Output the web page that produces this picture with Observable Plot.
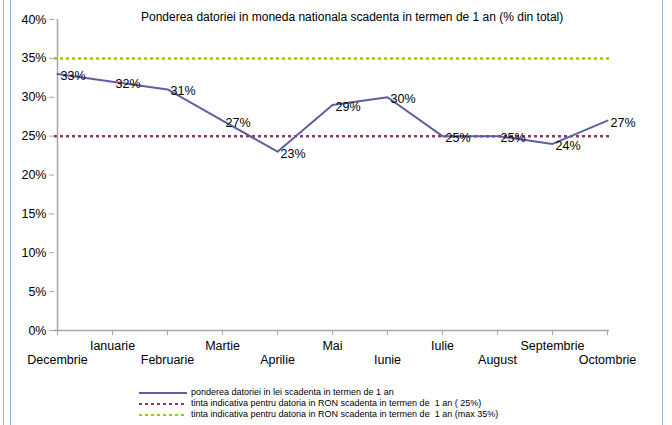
<!DOCTYPE html>
<html>
<head>
<meta charset="utf-8">
<script src="https://cdn.jsdelivr.net/npm/d3@7"></script>
<script src="https://cdn.jsdelivr.net/npm/@observablehq/plot@0.6"></script>
<style>
  body { margin: 0; background: #fff; }
  #wrap { position: relative; width: 672px; height: 425px; overflow: hidden; font-family: "Liberation Sans", Arial, sans-serif; }
  #title { position: absolute; left: 141px; top: 10px; font-size: 12px; line-height: 14px; white-space: nowrap; color: #000; }
  #legend { position: absolute; left: 139px; top: 387px; font-size: 9px; color: #000; }
  .row { height: 11px; line-height: 11px; display: flex; align-items: center; white-space: pre; }
  .row svg { margin-right: 2px; }
  .vb { position: absolute; top: 0; width: 1px; height: 425px; background: #95b3d7; }
</style>
</head>
<body>
<div id="wrap">
  <div id="chart"></div>
  <div id="title">Ponderea datoriei in moneda nationala scadenta in termen de 1 an (% din total)</div>
  <div id="legend"></div>
  <div class="vb" style="left:3px"></div>
  <div class="vb" style="left:10px"></div>
  <div class="vb" style="left:662px"></div>
</div>
<script>
const months = ["Decembrie","Ianuarie","Februarie","Martie","Aprilie","Mai","Iunie","Iulie","August","Septembrie","Octombrie"];
const values = [0.33,0.32,0.31,0.27,0.23,0.29,0.30,0.25,0.25,0.24,0.27];
const target25 = 0.25;
const target35 = 0.35;
const yTicks = [0,0.05,0.10,0.15,0.20,0.25,0.30,0.35,0.40];
const legendLabels = [
  "ponderea datoriei in lei scadenta in termen de 1 an",
  "tinta indicativa pentru datoria in RON scadenta in termen de  1 an ( 25%)",
  "tinta indicativa pentru datoria in RON scadenta in termen de  1 an (max 35%)"
];
const colors = ["#5f5f9f", "#993366", "#99cc00"];

const data = months.map((m, i) => ({month: m, value: values[i]}));
const pct = d3.format(".0%");
const axisColor = "#a6a6a6";

const chart = Plot.plot({
  width: 672,
  height: 380,
  marginLeft: 54,
  marginRight: 63,
  marginTop: 19,
  marginBottom: 50,
  style: {fontFamily: "'Liberation Sans', Arial, sans-serif", fontSize: "12px", color: "#000", background: "transparent"},
  x: {type: "point", domain: months, padding: 0, axis: null, label: null},
  y: {domain: [0, 0.4], axis: null, label: null},
  marks: [
    Plot.ruleY([target35], {stroke: colors[2], strokeWidth: 2.5, strokeDasharray: "3,3"}),
    Plot.ruleY([target25], {stroke: colors[1], strokeWidth: 2.5, strokeDasharray: "3,3"}),
    Plot.ruleX([months[0]], {stroke: axisColor, strokeWidth: 1.5}),
    Plot.ruleY([0], {stroke: axisColor, strokeWidth: 1.5}),
    Plot.axisY({ticks: yTicks, tickFormat: pct, tickSize: 5, tickPadding: 3, stroke: axisColor, fill: "#000", fontSize: 12.5, label: null}),
    Plot.axisX({ticks: months, tickSize: 5, tickPadding: 6, stroke: axisColor, fill: "#000", fontSize: 12.5, label: null,
      tickFormat: (d) => months.indexOf(d) % 2 === 1 ? d : ""}),
    Plot.axisX({ticks: months.filter((d, i) => i % 2 === 0), tickSize: 0, tickPadding: 25, fill: "#000", fontSize: 12.5, label: null}),
    Plot.line(data, {x: "month", y: "value", stroke: colors[0], strokeWidth: 2}),
    Plot.text(data, {x: "month", y: "value", text: d => pct(d.value), textAnchor: "start", dx: 3, dy: 2, fontSize: 12.5, fill: "#000"})
  ]
});
document.getElementById("chart").appendChild(chart);

const legend = document.getElementById("legend");
legendLabels.forEach((lab, i) => {
  const row = document.createElement("div");
  row.className = "row";
  const dash = i === 0 ? "" : ` stroke-dasharray="3,3"`;
  row.innerHTML = `<svg width="50" height="6"><line x1="0" x2="48" y1="3" y2="3" stroke="${colors[i]}" stroke-width="2"${dash}/></svg><span>${lab}</span>`;
  legend.appendChild(row);
});
</script>
</body>
</html>
